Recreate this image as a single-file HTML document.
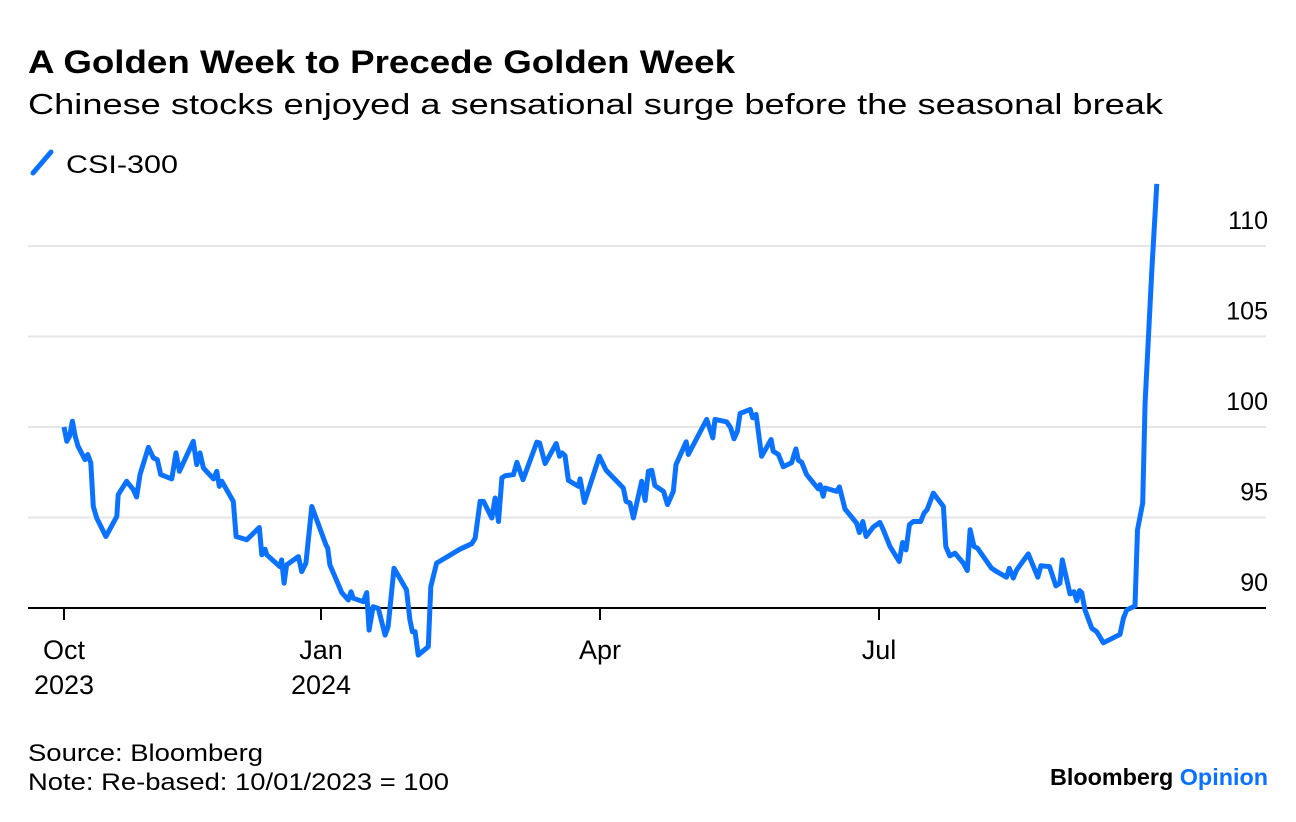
<!DOCTYPE html>
<html><head><meta charset="utf-8"><style>
body{margin:0;background:#fff;width:1296px;height:822px;overflow:hidden;font-family:"Liberation Sans",sans-serif;}
svg{position:absolute;left:0;top:0}
</style></head><body>
<svg width="1296" height="822">
<text x="28" y="73" font-size="32" font-weight="bold" fill="#000" textLength="707" lengthAdjust="spacingAndGlyphs">A Golden Week to Precede Golden Week</text>
<text x="28" y="114" font-size="29" fill="#000" textLength="1135" lengthAdjust="spacingAndGlyphs">Chinese stocks enjoyed a sensational surge before the seasonal break</text>
<line x1="33" y1="173" x2="51" y2="152" stroke="#0a72ff" stroke-width="5" stroke-linecap="round"/>
<text x="66" y="173" font-size="25" fill="#000" textLength="112" lengthAdjust="spacingAndGlyphs">CSI-300</text>
<g id="grid"></g><g id="xaxis"></g><g id="series"></g>
<text x="28" y="761" font-size="24" fill="#000" textLength="235" lengthAdjust="spacingAndGlyphs">Source: Bloomberg</text>
<text x="28" y="790" font-size="24" fill="#000" textLength="421" lengthAdjust="spacingAndGlyphs">Note: Re-based: 10/01/2023 = 100</text>
<text x="1268" y="785" font-size="23" font-weight="bold" text-anchor="end" fill="#000" textLength="218" lengthAdjust="spacingAndGlyphs">Bloomberg <tspan fill="#0a72ff">Opinion</tspan></text>
</svg>
<script>
const days=[0,1,2,3,4,5,7.5,8.5,9.6,10.5,11.7,15,18.9,19.4,22.4,24.8,26,27.2,30.2,32,33.4,34.6,38.6,40.1,41.3,46.3,47.5,48.7,49.9,53.5,54.7,55.6,56.5,60.6,61.6,65.4,69.9,70.8,72,72.6,77.3,77.9,78.8,79.7,83.9,85.1,86.6,88.7,93.6,94.2,94.9,98.8,100.9,101.8,102.5,105.8,106.9,107.7,109,110.7,112.9,113.9,115.8,119.9,121,121.8,122.7,123.7,127,127.8,129.7,137.3,141.2,142.3,143.9,145,147.7,148.8,149.9,151,152.1,154.8,155.9,157.9,162.4,163.3,165.1,168.7,169.8,170.6,171.6,172.7,176,176.5,177.9,182.8,185,190.6,191.5,192.8,193.9,196.6,197.7,198.8,199.9,200.9,203.7,205,206.9,207.8,211.1,211.8,217.8,219.8,220.5,224.3,225.6,226.7,227.8,228.7,232,232.8,233.9,235.7,238.8,239.5,241.2,242.8,245.5,246.9,247.7,248.8,250.4,254.2,254.8,255.8,256.4,260.2,261.1,262.9,266.7,267.6,268.7,269.8,272.1,274.3,275.4,277.6,280.6,281.7,282.8,283.9,285.2,287.6,288.7,289.7,291.7,295,295.8,297.1,298.8,301.5,302.8,303.7,305,306.1,310.7,312.4,315.6,316.5,317.8,318.9,322.7,325.8,326.8,329.6,331.7,333,333.8,336.3,337.6,338.5,339.4,340.1,341.2,343.4,345,347.2,352.6,353.7,354.8,357.5,358.3,360,360.8,363,364.6];
const values=[100,99.21,99.49,100.32,99.49,98.94,98.2,98.48,98.02,95.61,94.97,93.95,95.06,96.26,97,96.54,96.13,97.37,98.88,98.29,98.2,97.37,97.13,98.57,97.55,99.21,97.92,98.57,97.74,97.13,97.55,96.72,97,95.89,93.95,93.77,94.45,92.94,93.25,92.94,92.29,92.66,91.37,92.38,92.84,92.01,92.48,95.61,93.49,93.31,92.38,90.85,90.44,90.9,90.54,90.35,90.85,88.78,90.07,89.98,88.5,88.96,92.2,91,89.34,88.69,88.69,87.4,87.86,91.18,92.48,93.25,93.55,93.86,95.89,95.89,94.97,96.08,94.78,97.19,97.31,97.37,98.05,97.09,99.16,99.12,97.98,99.09,98.38,98.57,98.42,97.05,96.72,97.13,95.83,98.38,97.61,96.63,95.89,95.8,94.97,97,95.94,97.55,97.61,96.76,96.44,95.71,96.44,97.92,99.18,98.48,100.42,99.4,100.42,100.29,99.96,99.35,99.77,100.75,100.97,100.51,100.69,98.38,99.31,98.66,98.48,97.8,98.02,98.79,98.16,98.05,97.37,96.58,96.81,96.17,96.63,96.44,96.69,95.47,94.69,94.17,94.78,93.95,94.47,94.73,94.32,93.4,92.57,93.62,93.21,94.6,94.78,94.78,95.25,95.43,96.35,95.61,93.4,92.88,93.03,92.48,92.07,94.32,93.4,93.31,92.2,92.01,91.7,92.2,91.65,92.11,92.99,91.7,92.33,92.29,91.22,91.37,92.66,90.78,90.9,90.4,90.96,90.85,89.89,88.88,88.69,88.08,88.54,89.43,89.89,90.11,94.32,95.8,101.34,108.73,113.43];
const yTicks=[90,95,100,105,110];
const xTickDays=[0,92,183,274];
const xTickLabels=[["Oct","2023"],["Jan","2024"],["Apr",""],["Jul",""]];
const NS="http://www.w3.org/2000/svg";
function xs(d){return d<92?64+d*257/92:321+(d-92)*(1158-321)/273;}
function ys(v){return 608-(v-90)*18.1;}
const grid=document.getElementById('grid');
yTicks.forEach(t=>{
 if(t>90){const l=document.createElementNS(NS,'line');
 l.setAttribute('x1',28);l.setAttribute('x2',1266);l.setAttribute('y1',ys(t));l.setAttribute('y2',ys(t));
 l.setAttribute('stroke','#e6e6e6');l.setAttribute('stroke-width',2);
 
 
 grid.appendChild(l);}
 const tx=document.createElementNS(NS,'text');
 tx.setAttribute('x',1268);tx.setAttribute('y',ys(t)-17);tx.setAttribute('text-anchor','end');tx.setAttribute('font-size','25');
 tx.textContent=t;
 
 
 grid.appendChild(tx);
});
const xa=document.getElementById('xaxis');
const base=document.createElementNS(NS,'line');
base.setAttribute('x1',28);base.setAttribute('x2',1266);base.setAttribute('y1',608);base.setAttribute('y2',608);base.setAttribute('stroke','#000');base.setAttribute('stroke-width',2);


xa.appendChild(base);
xTickDays.forEach((d,i)=>{
 const x=xs(d);
 const tk=document.createElementNS(NS,'line');
 tk.setAttribute('x1',x);tk.setAttribute('x2',x);tk.setAttribute('y1',608);tk.setAttribute('y2',620);tk.setAttribute('stroke','#000');tk.setAttribute('stroke-width',2);
 
 
 xa.appendChild(tk);
 xTickLabels[i].forEach((s,j)=>{ if(!s)return;
  const t=document.createElementNS(NS,'text');
  t.setAttribute('x',x);t.setAttribute('y',659+j*35);t.setAttribute('text-anchor','middle');t.setAttribute('font-size','27');
  t.textContent=s;
  
  
  xa.appendChild(t);
 });
});
const p=document.createElementNS(NS,'path');
p.setAttribute('d',days.map((d,i)=>(i?'L':'M')+xs(d).toFixed(1)+' '+ys(values[i]).toFixed(1)).join(' '));
p.setAttribute('fill','none');p.setAttribute('stroke','#0a72ff');p.setAttribute('stroke-width','5');p.setAttribute('stroke-linejoin','round');


document.getElementById('series').appendChild(p);
</script>
</body></html>
